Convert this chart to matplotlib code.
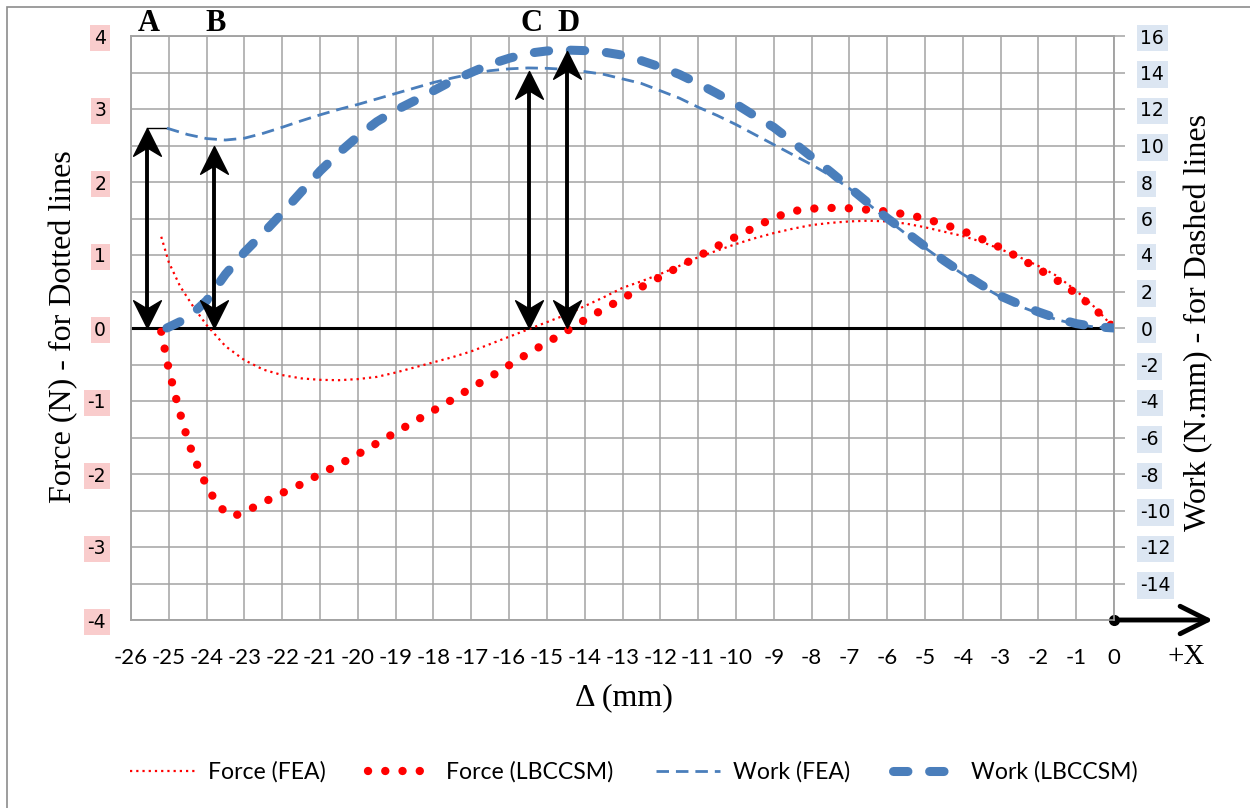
import numpy as np
import matplotlib.pyplot as plt
from matplotlib.patches import Rectangle
from matplotlib.path import Path

# displacement (mm) and force (N) - left axis
force_fea_x = [-25.2, -25.0, -24.7, -24.35, -24.0, -23.5, -23.0, -22.5, -22.0, -21.5, -21.0,
               -20.5, -20.0, -19.5, -19.0, -18.5, -18.0, -17.5, -17.0, -16.5, -16.0, -15.5,
               -15.0, -14.5, -14.0, -13.5, -13.0, -12.5, -12.0, -11.5, -11.0, -10.5, -10.0,
               -9.5, -9.0, -8.5, -8.0, -7.5, -7.0, -6.5, -6.0, -5.5, -5.0, -4.5, -4.0, -3.5,
               -3.0, -2.5, -2.0, -1.5, -1.0, -0.5, 0.0]
force_fea = [1.25, 0.90, 0.57, 0.29, 0.04, -0.25, -0.44, -0.57, -0.645, -0.69, -0.71,
             -0.715, -0.70, -0.67, -0.61, -0.54, -0.47, -0.40, -0.32, -0.22, -0.12, -0.02,
             0.08, 0.18, 0.30, 0.42, 0.55, 0.64, 0.74, 0.85, 0.97, 1.06, 1.15,
             1.23, 1.30, 1.36, 1.41, 1.44, 1.46, 1.47, 1.46, 1.43, 1.38, 1.32, 1.26, 1.18,
             1.08, 0.97, 0.85, 0.71, 0.51, 0.28, 0.0]

force_lb_x = [-25.2, -25.0, -24.8, -24.6, -24.4, -24.2, -24.0, -23.7, -23.45, -23.3, -23.0,
              -22.5, -22.0, -21.5, -21.0, -20.5, -20.0, -19.5, -19.0, -18.5, -18.0, -17.5,
              -17.0, -16.5, -16.0, -15.5, -15.0, -14.5, -14.0, -13.5, -13.0, -12.5, -12.0,
              -11.5, -11.0, -10.5, -10.0, -9.5, -9.0, -8.5, -8.0, -7.5, -7.0, -6.5, -6.0,
              -5.5, -5.0, -4.5, -4.0, -3.5, -3.0, -2.5, -2.0, -1.5, -1.0, -0.5, 0.0]
force_lb = [-0.05, -0.57, -0.98, -1.36, -1.68, -1.94, -2.16, -2.43, -2.54, -2.58, -2.52,
            -2.39, -2.26, -2.14, -2.00, -1.87, -1.73, -1.58, -1.43, -1.28, -1.13, -0.98,
            -0.82, -0.67, -0.51, -0.35, -0.20, -0.05, 0.11, 0.26, 0.40, 0.56, 0.70,
            0.84, 0.98, 1.12, 1.25, 1.38, 1.51, 1.60, 1.635, 1.645, 1.64, 1.62, 1.595,
            1.555, 1.50, 1.42, 1.33, 1.22, 1.10, 0.96, 0.81, 0.65, 0.47, 0.26, 0.0]

# work (N.mm) - right axis
work_fea_x = [-25.05, -24.5, -24.0, -23.5, -23.0, -22.5, -22.0, -21.5, -21.0, -20.5, -20.0,
              -19.5, -19.0, -18.5, -18.0, -17.5, -17.0, -16.5, -16.0, -15.5, -15.0, -14.5,
              -14.0, -13.5, -13.0, -12.5, -12.0, -11.5, -11.0, -10.5, -10.0, -9.5, -9.0,
              -8.5, -8.0, -7.5, -7.0, -6.5, -6.0, -5.5, -5.0, -4.5, -4.0, -3.5, -3.0, -2.5,
              -2.0, -1.5, -1.0, -0.5, 0.0]
work_fea = [10.95, 10.6, 10.38, 10.3, 10.4, 10.67, 11.0, 11.35, 11.68, 11.98, 12.25,
            12.55, 12.85, 13.15, 13.45, 13.7, 13.92, 14.1, 14.2, 14.25, 14.23, 14.17,
            14.05, 13.9, 13.65, 13.4, 13.0, 12.6, 12.1, 11.65, 11.15, 10.6, 10.05,
            9.5, 8.95, 8.35, 7.65, 6.8, 5.95, 5.15, 4.4, 3.65, 2.95, 2.3, 1.7, 1.2,
            0.8, 0.45, 0.2, 0.05, 0.0]

work_lb_x = [-25.05, -24.5, -24.0, -23.5, -23.0, -22.5, -22.0, -21.5, -21.0, -20.5, -20.0,
             -19.5, -19.0, -18.5, -18.0, -17.5, -17.0, -16.5, -16.0, -15.5, -15.0, -14.5,
             -14.0, -13.5, -13.0, -12.5, -12.0, -11.5, -11.0, -10.5, -10.0, -9.5, -9.0,
             -8.5, -8.0, -7.5, -7.0, -6.5, -6.0, -5.5, -5.0, -4.5, -4.0, -3.5, -3.0, -2.5,
             -2.0, -1.5, -1.0, -0.5, 0.0]
work_lb = [0.0, 0.55, 1.5, 2.95, 4.15, 5.2, 6.3, 7.45, 8.6, 9.6, 10.5,
           11.3, 11.93, 12.45, 13.0, 13.55, 14.0, 14.45, 14.78, 15.05, 15.18, 15.23,
           15.2, 15.12, 14.95, 14.65, 14.3, 13.9, 13.4, 12.85, 12.27, 11.62, 11.0,
           10.2, 9.38, 8.56, 7.7, 6.85, 6.02, 5.25, 4.47, 3.7, 3.0, 2.35, 1.75, 1.3,
           0.88, 0.52, 0.24, 0.07, 0.0]

x_ticks = list(range(-26, 1))
force_ticks = list(range(-4, 5))
work_ticks = list(range(-14, 17, 2))

# marker arrows: (label, x position, top of arrow on work axis)
points = [("A", -25.58, 10.96), ("B", -23.8, 9.97), ("C", -15.46, 14.1), ("D", -14.47, 15.2)]

RED = "#ff0000"
BLUE = "#4a7ebb"
GRID = "#a3a3a3"
serif = "Liberation Serif"

# notched arrow heads, tip at the origin
head_up = Path([(0, 0), (0.5, -1), (0, -0.7), (-0.5, -1), (0, 0)],
               [Path.MOVETO, Path.LINETO, Path.LINETO, Path.LINETO, Path.CLOSEPOLY])
head_down = Path([(0, 0), (0.5, 1), (0, 0.7), (-0.5, 1), (0, 0)],
                 [Path.MOVETO, Path.LINETO, Path.LINETO, Path.LINETO, Path.CLOSEPOLY])

fig = plt.figure(figsize=(12.5, 8.08), dpi=100)
fig.add_artist(Rectangle((7 / 1250, -0.05), 1.2, 1.05 - 7 / 808, transform=fig.transFigure,
                         fill=False, edgecolor="#8c8c8c", lw=1.2))

ax = fig.add_axes([131 / 1250, 1 - 620 / 808, 983 / 1250, 584 / 808])
ax.set_xlim(-26, 0)
ax.set_ylim(-4, 4)
ax.set_xticks(x_ticks)
ax.set_yticks(force_ticks)
ax.set_yticks(np.arange(-4, 4.01, 0.5), minor=True)
ax.grid(which="both", color=GRID, lw=1.1)
ax.set_axisbelow(True)
for s in ax.spines.values():
    s.set_color(GRID)
    s.set_linewidth(1.1)
ax.tick_params(axis="both", which="both", length=0)
ax.tick_params(axis="x", pad=20)
ax.tick_params(axis="y", pad=18)
ax.set_xticklabels([str(t) for t in x_ticks], family="Lato", fontsize=16)
ax.set_yticklabels([str(t) for t in force_ticks], family="DejaVu Sans", fontsize=13.5)
for lab in ax.get_yticklabels():
    lab.set_bbox(dict(facecolor="#f9cccc", edgecolor="none", pad=2.5))

ax.axhline(0, color="black", lw=2.2, zorder=2)

l1, = ax.plot(force_fea_x, force_fea, color=RED, lw=1.6, ls=(0, (1, 1.8)), zorder=3)
l2, = ax.plot(force_lb_x, force_lb, color=RED, lw=6, ls=(0, (0.01, 2.06)),
              dash_capstyle="round", zorder=3)

ax2 = ax.twinx()
ax2.set_ylim(-16, 16)
ax2.set_yticks(work_ticks)
ax2.set_yticklabels([str(t) for t in work_ticks], family="DejaVu Sans", fontsize=13.5)
for lab in ax2.get_yticklabels():
    lab.set_bbox(dict(facecolor="#dce6f2", edgecolor="none", pad=2.5))
ax2.tick_params(axis="y", direction="out", length=8, width=1.1, color=GRID, pad=11)
for s in ax2.spines.values():
    s.set_color(GRID)
    s.set_linewidth(1.1)

l3, = ax2.plot(work_fea_x, work_fea, color=BLUE, lw=2, ls=(0, (4.5, 2.5)), zorder=3)
l4, = ax2.plot(work_lb_x, work_lb, color=BLUE, lw=6.5, ls=(0, (1.6, 2.4)),
               dash_capstyle="round", zorder=3)

# double-headed arrows from the axis up to the work curves
for name, xp, top in points:
    ax2.plot([xp, xp], [0.6, top - 0.6], color="black", lw=2.8, zorder=5)
    ax2.plot([xp], [top], marker=head_up, ms=40, color="black", zorder=6)
    ax2.plot([xp], [0], marker=head_down, ms=40, color="black", zorder=6)
    ax2.text(xp + 0.05, 16.27, name, family=serif, fontweight="bold", fontsize=22,
             ha="center", va="baseline", clip_on=False)
ax2.plot([points[0][1], work_fea_x[0]], [points[0][2], points[0][2]], color="black", lw=1)

# +X direction arrow along the bottom edge
ax.annotate("", xy=(2.62, -4), xytext=(0, -4), annotation_clip=False,
            arrowprops=dict(arrowstyle="->,head_length=0.9,head_width=0.45", color="black",
                            lw=3.5, mutation_scale=22, shrinkA=0, shrinkB=0))
ax.plot([0], [-4], "o", color="black", ms=7, clip_on=False, zorder=6)
ax.text(1.9, -4.5, "+X", family=serif, fontsize=21, ha="center", va="center")

ax.set_xlabel("\u0394 (mm)", family=serif, fontsize=23)
ax.xaxis.set_label_coords(0.501, -0.108)
ax.set_ylabel("Force (N) - for Dotted lines", family=serif, fontsize=23)
ax.yaxis.set_label_coords(-0.054, 0.502)
ax2.set_ylabel("Work (N.mm) - for Dashed lines", family=serif, fontsize=23, rotation=90)
ax2.yaxis.set_label_coords(1.071, 0.51)

fig.legend([l1, l2, l3, l4], ["Force (FEA)", "Force (LBCCSM)", "Work (FEA)", "Work (LBCCSM)"],
           loc="center", bbox_to_anchor=(0.507, 1 - 772 / 808), ncol=4, frameon=False,
           handlelength=2.8, columnspacing=1.85, handletextpad=0.57,
           prop={"family": "Lato", "size": 16.6})

fig.savefig("out.png", dpi=100, facecolor="white")
